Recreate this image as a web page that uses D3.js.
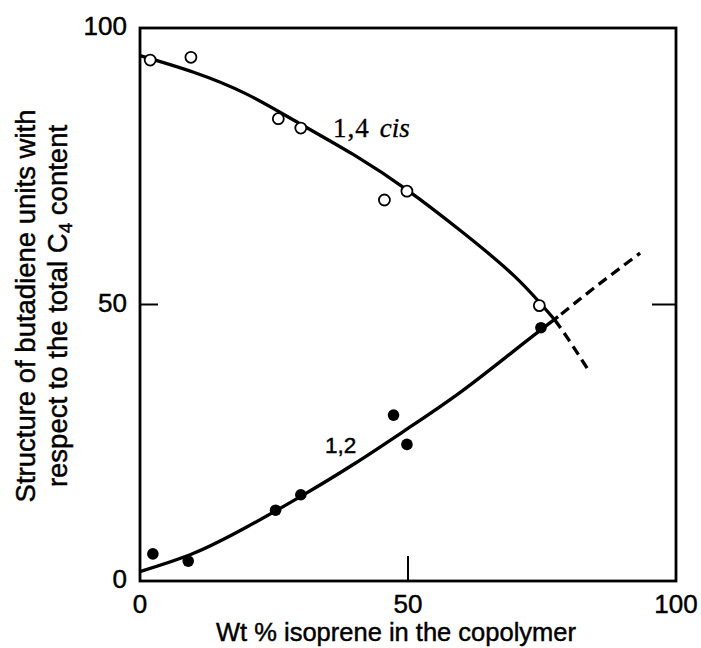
<!DOCTYPE html>
<html>
<head>
<meta charset="utf-8">
<script src="https://cdn.jsdelivr.net/npm/d3@7"></script>
<style>
  html, body { margin: 0; padding: 0; background: #fff; }
  svg { display: block; }
  .sans { font-family: "Liberation Sans", Arial, sans-serif; fill: #000; stroke: #000; stroke-width: 0.45; }
  .serif { font-family: "Liberation Serif", "Times New Roman", serif; fill: #000; stroke: #000; stroke-width: 0.35; }
</style>
</head>
<body>
<svg id="chart" width="701" height="648"></svg>
<script>
// Measured points: 1,4 cis (open circles) and 1,2 (filled circles)
const cisX = [1.9, 9.5, 25.8, 30.0, 45.6, 49.8, 74.5];
const cisY = [94.2, 94.7, 83.6, 81.9, 68.9, 70.5, 49.8];
const vinylX = [2.4, 9.0, 25.3, 30.0, 47.3, 49.8, 74.8];
const vinylY = [4.9, 3.6, 12.8, 15.6, 30.0, 24.7, 45.8];

// Smoothed trend lines (solid part, then dashed extrapolation)
const cisLineX = [0, 10, 20, 30, 40, 50, 60, 70, 77.4];
const cisLineY = [95, 92, 88, 82.6, 77, 70.6, 63.2, 55, 47.2];
const cisDashX = [77.4, 80, 83.6];
const cisDashY = [47.2, 43.6, 38.2];
const vinylLineX = [0, 10, 20, 30, 40, 50, 60, 70, 78];
const vinylLineY = [1.7, 5, 9.8, 15.3, 21.2, 27.6, 34.3, 41.8, 47.8];
const vinylDashX = [78, 85, 93.3];
const vinylDashY = [47.8, 53.2, 59.3];

const xTicks = [0, 50, 100];
const yTicks = [0, 50, 100];

const svg = d3.select("#chart");
const plotL = 140, plotR = 676, plotT = 28, plotB = 581;

const x = d3.scaleLinear().domain([0, 100]).range([plotL, plotR]);
const y = d3.scaleLinear().domain([0, 100]).range([plotB, plotT]);

const zip = (xs, ys) => xs.map((v, i) => [v, ys[i]]);
const line = d3.line().x(d => x(d[0])).y(d => y(d[1])).curve(d3.curveNatural);

// Frame
svg.append("rect")
  .attr("x", plotL).attr("y", plotT)
  .attr("width", plotR - plotL).attr("height", plotB - plotT)
  .attr("fill", "none").attr("stroke", "#000").attr("stroke-width", 2.8);

// Inward ticks at the midpoint
svg.append("line").attr("x1", x(50)).attr("x2", x(50))
  .attr("y1", plotB).attr("y2", plotB - 25)
  .attr("stroke", "#000").attr("stroke-width", 2);
svg.append("line").attr("x1", plotL).attr("x2", plotL + 18)
  .attr("y1", y(50)).attr("y2", y(50))
  .attr("stroke", "#000").attr("stroke-width", 2);
svg.append("line").attr("x1", plotR).attr("x2", plotR - 24)
  .attr("y1", y(50)).attr("y2", y(50))
  .attr("stroke", "#000").attr("stroke-width", 2);

// Tick labels
svg.selectAll("text.xt").data(xTicks).enter().append("text")
  .attr("class", "sans xt")
  .attr("x", d => x(d)).attr("y", 613)
  .attr("text-anchor", "middle")
  .attr("font-size", 26)
  .text(d => d);

svg.selectAll("text.yt").data(yTicks).enter().append("text")
  .attr("class", "sans yt")
  .attr("x", 127).attr("y", d => y(d) + 7)
  .attr("text-anchor", "end")
  .attr("font-size", 26)
  .text(d => d);

// Axis titles
svg.append("text").attr("class", "sans")
  .attr("x", 396).attr("y", 641)
  .attr("text-anchor", "middle")
  .attr("font-size", 25.5)
  .text("Wt % isoprene in the copolymer");

const yTitle = svg.append("g").attr("transform", "translate(0,306) rotate(-90)");
yTitle.append("text").attr("class", "sans")
  .attr("x", 0).attr("y", 35)
  .attr("text-anchor", "middle")
  .attr("font-size", 27.5)
  .text("Structure of butadiene units with");
const t2 = yTitle.append("text").attr("class", "sans")
  .attr("x", 0).attr("y", 67)
  .attr("text-anchor", "middle")
  .attr("font-size", 27.5);
t2.append("tspan").text("respect to the total C");
t2.append("tspan").attr("font-size", 19).attr("dy", 5).text("4");
t2.append("tspan").attr("dy", -5).text(" content");

// Curves
svg.append("path").datum(zip(cisLineX, cisLineY))
  .attr("d", line).attr("fill", "none").attr("stroke", "#000").attr("stroke-width", 3.3);
svg.append("path").datum(zip(cisDashX, cisDashY))
  .attr("d", line).attr("fill", "none").attr("stroke", "#000").attr("stroke-width", 3.3)
  .attr("stroke-dasharray", "10,6");
svg.append("path").datum(zip(vinylLineX, vinylLineY))
  .attr("d", line).attr("fill", "none").attr("stroke", "#000").attr("stroke-width", 3.3);
svg.append("path").datum(zip(vinylDashX, vinylDashY))
  .attr("d", line).attr("fill", "none").attr("stroke", "#000").attr("stroke-width", 3.3)
  .attr("stroke-dasharray", "10,6").attr("stroke-dashoffset", -4);

// Markers
svg.selectAll("circle.cis").data(zip(cisX, cisY)).enter().append("circle")
  .attr("class", "cis")
  .attr("cx", d => x(d[0])).attr("cy", d => y(d[1])).attr("r", 5.5)
  .attr("fill", "#fff").attr("stroke", "#000").attr("stroke-width", 1.8);
svg.selectAll("circle.vinyl").data(zip(vinylX, vinylY)).enter().append("circle")
  .attr("class", "vinyl")
  .attr("cx", d => x(d[0])).attr("cy", d => y(d[1])).attr("r", 5.8)
  .attr("fill", "#000");

// Curve labels
const cisLab = svg.append("text").attr("class", "serif")
  .attr("x", 333).attr("y", 137).attr("font-size", 27);
cisLab.append("tspan").attr("letter-spacing", 1).text("1,4");
cisLab.append("tspan").attr("dx", 10).attr("font-style", "italic").text("cis");

svg.append("text").attr("class", "sans")
  .attr("x", 325).attr("y", 453).attr("font-size", 22.5)
  .text("1,2");
</script>
</body>
</html>
